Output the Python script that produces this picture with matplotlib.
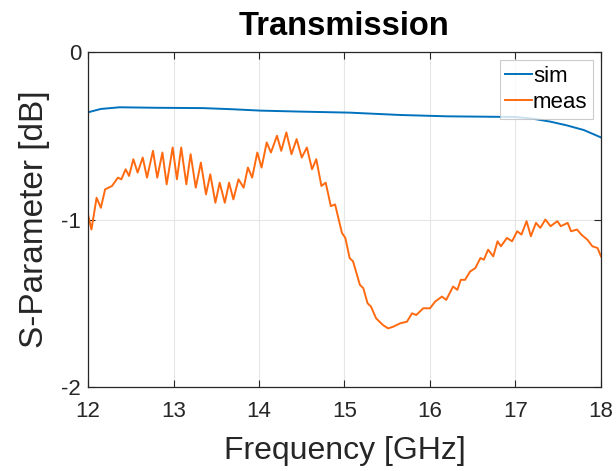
import numpy as np
import matplotlib.pyplot as plt

# values
sim_freq = [12.0, 12.15, 12.37, 12.8, 13.35, 13.7, 14.02, 14.5, 15.06, 15.65,
            16.2, 16.6, 17.0, 17.2, 17.41, 17.6, 17.8, 18.0]
sim_db = [-0.36, -0.34, -0.33, -0.333, -0.335, -0.342, -0.35, -0.356, -0.362, -0.376,
          -0.384, -0.386, -0.388, -0.398, -0.416, -0.438, -0.466, -0.51]

meas_freq = [12.0, 12.04, 12.10, 12.15, 12.20, 12.28, 12.35, 12.39, 12.44, 12.48,
             12.53, 12.58, 12.64, 12.69, 12.76, 12.81, 12.87, 12.92, 12.99, 13.04,
             13.09, 13.15, 13.20, 13.26, 13.32, 13.38, 13.43, 13.49, 13.54, 13.60,
             13.65, 13.70, 13.76, 13.82, 13.87, 13.92, 13.98, 14.03, 14.09, 14.14,
             14.21, 14.26, 14.32, 14.38, 14.44, 14.50, 14.56, 14.62, 14.67, 14.73,
             14.78, 14.84, 14.89, 14.97, 15.01, 15.06, 15.10, 15.18, 15.22, 15.27,
             15.31, 15.37, 15.45, 15.51, 15.57, 15.65, 15.73, 15.79, 15.84, 15.92,
             16.00, 16.06, 16.14, 16.19, 16.27, 16.32, 16.36, 16.41, 16.47, 16.53,
             16.59, 16.63, 16.68, 16.74, 16.79, 16.83, 16.90, 16.96, 17.02, 17.07,
             17.13, 17.18, 17.24, 17.29, 17.35, 17.41, 17.49, 17.53, 17.61, 17.65,
             17.72, 17.77, 17.84, 17.90, 17.96, 18.0]
meas_db = [-0.97, -1.06, -0.87, -0.93, -0.82, -0.80, -0.75, -0.76, -0.70, -0.74,
           -0.64, -0.72, -0.63, -0.75, -0.59, -0.75, -0.60, -0.79, -0.57, -0.76,
           -0.57, -0.79, -0.61, -0.81, -0.66, -0.85, -0.73, -0.90, -0.78, -0.90,
           -0.78, -0.88, -0.76, -0.81, -0.69, -0.75, -0.60, -0.69, -0.54, -0.60,
           -0.50, -0.59, -0.48, -0.61, -0.52, -0.63, -0.57, -0.70, -0.64, -0.80,
           -0.78, -0.92, -0.91, -1.08, -1.11, -1.23, -1.25, -1.39, -1.41, -1.50,
           -1.52, -1.59, -1.63, -1.65, -1.64, -1.62, -1.61, -1.56, -1.57, -1.53,
           -1.53, -1.49, -1.46, -1.48, -1.40, -1.42, -1.36, -1.36, -1.31, -1.29,
           -1.23, -1.24, -1.18, -1.22, -1.13, -1.16, -1.11, -1.13, -1.07, -1.09,
           -1.01, -1.10, -1.02, -1.05, -1.00, -1.04, -1.01, -1.04, -1.02, -1.07,
           -1.06, -1.09, -1.12, -1.16, -1.17, -1.22]

xticks = [12, 13, 14, 15, 16, 17, 18]
yticks = [-2, -1, 0]

plt.rcParams['font.family'] = ['Liberation Sans', 'DejaVu Sans']

fig = plt.figure(figsize=(6.16, 4.71), dpi=100)
ax = fig.add_axes([0.1429, 0.1783, 0.8327, 0.7113])

ax.plot(sim_freq, sim_db, color='#0072BD', lw=1.4, label='sim')
ax.plot(meas_freq, meas_db, color='#FF6A10', lw=1.4, label='meas')

ax.set_xlim(12, 18)
ax.set_ylim(-2, 0)
ax.set_xticks(xticks)
ax.set_yticks(yticks)
ax.set_yticklabels(['-2', '-1', '0'])
ax.grid(True, color='#e6e6e6', lw=0.8)
ax.set_axisbelow(True)
ax.tick_params(direction='in', top=True, right=True, length=5, width=0.8,
               labelsize=16, colors='#262626')
ax.tick_params(axis='x', pad=10)
ax.tick_params(axis='y', pad=5)
for s in ax.spines.values():
    s.set_color('#262626')
    s.set_linewidth(0.9)

ax.set_title('Transmission', fontsize=23.5, fontweight='bold', pad=12)
ax.set_xlabel('Frequency [GHz]', fontsize=23, color='#262626', labelpad=10)
ax.set_ylabel('S-Parameter [dB]', fontsize=24, color='#262626', labelpad=8)

leg = ax.legend(loc='upper right', fontsize=16, frameon=True, fancybox=False,
                handlelength=1.2, handletextpad=0.05, borderpad=0.25, labelspacing=0.25,
                borderaxespad=0.36)
leg.get_frame().set_edgecolor('#bfbfbf')
leg.get_frame().set_linewidth(0.8)

fig.savefig('out.png', dpi=100)
